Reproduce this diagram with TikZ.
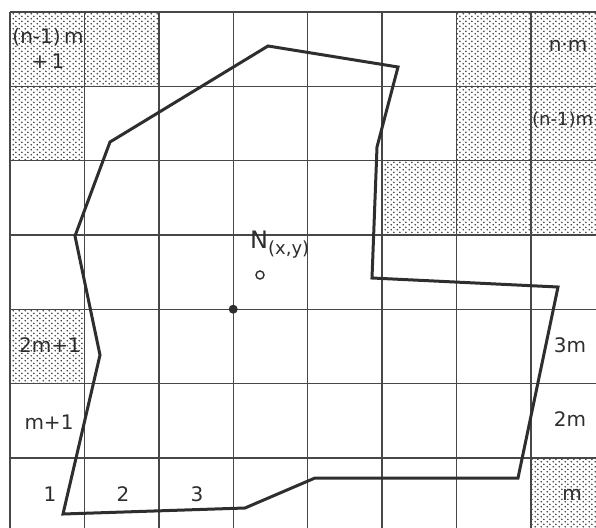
\documentclass[tikz,border=0pt]{standalone}
\usepackage{fontspec}
\setmainfont{DejaVu Sans}
\usetikzlibrary{patterns}
\pgfdeclarepatternformonly{stagdots}{\pgfqpoint{0pt}{0pt}}{\pgfqpoint{6pt}{5.4pt}}{\pgfqpoint{6pt}{5.4pt}}{%
  \pgfpathcircle{\pgfqpoint{1.5pt}{1.35pt}}{1pt}%
  \pgfpathcircle{\pgfqpoint{4.5pt}{4.05pt}}{1pt}%
  \pgfusepath{fill}}
\definecolor{ink}{gray}{0.18}
\definecolor{gridc}{gray}{0.28}
\begin{document}
\begin{tikzpicture}[x=1pt,y=-1pt,
  shaded/.style={pattern=stagdots,pattern color=black!75},
  gridline/.style={draw=gridc,line width=1.4pt},
  outline/.style={draw=ink,line width=3pt,line join=miter},
  lbl/.style={inner sep=0pt,font=\fontsize{20}{22}\selectfont,text=ink}]
\useasboundingbox (0,0) rectangle (596,527);
\clip (0,0) rectangle (596,527);
\def\cw{74.4}
\def\ch{74.3}
% shaded cells: (col,row)
\foreach \c/\r in {0/0,1/0,6/0,7/0,0/1,6/1,7/1,5/2,6/2,7/2,0/4,7/6}{
  \fill[shaded] ({10+\c*\cw},{12+\r*\ch}) rectangle ({10+(\c+1)*\cw},{12+(\r+1)*\ch});
}
% grid
\foreach \i in {0,...,8}{
  \draw[gridline] ({10+\i*\cw},12) -- ({10+\i*\cw},540);
}
\foreach \j in {0,...,7}{
  \draw[gridline] (10,{12+\j*\ch}) -- (610,{12+\j*\ch});
}
% polygon vertices
\coordinate (p1) at (63,514);
\coordinate (p2) at (245,508);
\coordinate (p3) at (315,478);
\coordinate (p4) at (518,478);
\coordinate (p5) at (558,287);
\coordinate (p6) at (372,278);
\coordinate (p7) at (377,147);
\coordinate (p8) at (398,67);
\coordinate (p9) at (268,46);
\coordinate (p10) at (110,142);
\coordinate (p11) at (75,236);
\coordinate (p12) at (100,355);
\draw[outline] (p1) -- (p2) -- (p3) -- (p4) -- (p5) -- (p6) -- (p7) -- (p8) -- (p9) -- (p10) -- (p11) -- (p12) -- cycle;
% points
\node[circle,fill=ink,inner sep=0pt,minimum size=9pt] (c0) at (233.2,309.2) {};
\node[circle,draw=ink,line width=1.4pt,inner sep=0pt,minimum size=8pt] (np) at (260,275) {};
\node[inner sep=0pt,anchor=south west,font=\fontsize{24}{26}\selectfont,text=ink] (nlab) at (250,258) {N\textsubscript{\fontsize{18}{20}\selectfont(x,y)}};
% labels
\node[lbl] (l1a) at (48,37) {(n-1)\,m};
\node[lbl] (l1b) at (48,61) {+\,1};
\node[lbl] (lnm) at (568,46) {n·m};
\node[lbl,anchor=west,font=\fontsize{18}{20}\selectfont] (ln1m) at (532,120) {(n-1)m};
\node[lbl] (l2m1) at (50,345) {2m+1};
\node[lbl] (lm1) at (49,422) {m+1};
\node[lbl] (l1) at (50,494) {1};
\node[lbl] (l2) at (123,494) {2};
\node[lbl] (l3) at (197,494) {3};
\node[lbl] (l3m) at (570,345) {3m};
\node[lbl] (l2m) at (570,419) {2m};
\node[lbl] (lm) at (572,495) {m};
\end{tikzpicture}
\end{document}
